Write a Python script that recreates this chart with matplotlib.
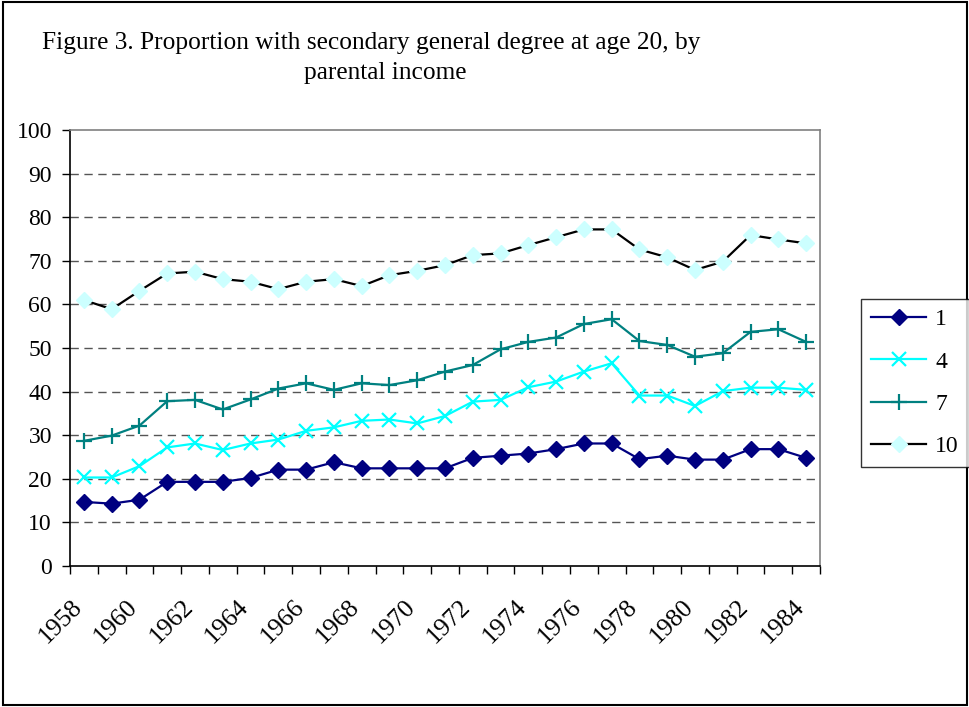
import matplotlib

matplotlib.use("Agg")
import matplotlib.pyplot as plt
from matplotlib.patches import Rectangle

# values (per cent at age 20)
years = list(range(1958, 1985))
q1 = [14.7, 14.3, 15.2, 19.3, 19.3, 19.3, 20.2, 22.1, 22.1, 23.8, 22.4, 22.4, 22.4,
      22.4, 24.8, 25.3, 25.8, 26.8, 28.1, 28.1, 24.5, 25.3, 24.4, 24.4, 26.8, 26.8, 24.8]
q4 = [20.3, 20.3, 22.9, 27.2, 28.1, 26.6, 28.1, 29.0, 31.0, 31.8, 33.3, 33.6, 32.7,
      34.4, 37.7, 38.1, 41.0, 42.3, 44.6, 46.5, 39.1, 39.1, 36.7, 40.1, 40.9, 40.9, 40.4]
q7 = [28.7, 29.9, 32.2, 37.8, 38.1, 35.9, 38.2, 40.7, 41.9, 40.4, 41.9, 41.5, 42.6,
      44.6, 46.1, 49.7, 51.4, 52.4, 55.5, 56.6, 51.6, 50.7, 48.0, 48.8, 53.7, 54.3, 51.4]
q10 = [61.0, 58.9, 63.1, 67.1, 67.5, 65.8, 65.2, 63.5, 65.2, 65.8, 64.2, 66.7, 67.7,
       69.0, 71.3, 71.7, 73.6, 75.4, 77.2, 77.2, 72.6, 70.8, 67.9, 69.8, 75.9, 74.9, 74.0]
series_labels = ["1", "4", "7", "10"]
yticks = list(range(0, 101, 10))
title_lines = ["Figure 3. Proportion with secondary general degree at age 20, by",
               "parental income"]

plt.rcParams["font.family"] = "Liberation Serif"
FS = 17

fig = plt.figure(figsize=(9.7, 7.07), dpi=100, facecolor="white")
ax = fig.add_axes([70 / 970, 1 - 566 / 707, 750 / 970, 436 / 707])

x = list(range(len(years)))
ax.plot(x, q1, color="#000080", lw=1.6, marker="D", ms=8.5,
        mfc="#000080", mec="#000080", label=series_labels[0], zorder=3)
ax.plot(x, q4, color="#00FFFF", lw=1.6, marker="x", ms=10, mew=1.6,
        label=series_labels[1], zorder=3)
ax.plot(x, q7, color="#008080", lw=1.6, marker="+", ms=11, mew=1.6,
        label=series_labels[2], zorder=3)
ax.plot(x, q10, color="black", lw=1.6, marker="D", ms=8.5,
        mfc="#CCFFFF", mec="#CCFFFF", label=series_labels[3], zorder=3)

ax.set_xlim(-0.5, len(years) - 0.5)
ax.set_ylim(0, 100)
ax.set_yticks(yticks)
ax.set_yticklabels([str(v) for v in yticks], fontsize=FS)

# category axis: tick marks between categories, labels every other year
ax.set_xticks([i - 0.5 for i in range(len(years) + 1)])
ax.set_xticklabels([])
ax.tick_params(axis="x", length=6, width=1, direction="out")
ax.tick_params(axis="y", length=6, width=1, direction="out", pad=7)
for i, yr in enumerate(years):
    if yr % 2 == 0:
        ax.annotate(str(yr), xy=(i, 0), xycoords=("data", "axes fraction"),
                    xytext=(-4, -27), textcoords="offset points",
                    rotation=45, rotation_mode="anchor", ha="right", va="center",
                    fontsize=18.5)

for v in yticks[1:-1]:
    ax.axhline(v, color="#555555", lw=1.0, ls=(0, (6, 4)), zorder=1)

for s in ("left", "bottom"):
    ax.spines[s].set_color("black")
    ax.spines[s].set_linewidth(1.2)
for s in ("top", "right"):
    ax.spines[s].set_color("#808080")
    ax.spines[s].set_linewidth(1.2)

leg = fig.legend(loc="upper left", bbox_to_anchor=(861 / 970, 1 - 299 / 707),
                 fontsize=FS, frameon=True, fancybox=False, edgecolor="black",
                 handlelength=2.35, labelspacing=0.88, borderpad=0.42,
                 handletextpad=0.38, borderaxespad=0)
leg.get_frame().set_linewidth(1.0)

fig.text(371 / 970, 1 - 43 / 707, title_lines[0], ha="center", va="center", fontsize=18.3)
fig.text(385 / 970, 1 - 73 / 707, title_lines[1], ha="center", va="center", fontsize=18.3)

fig.patches.append(Rectangle((0.003, 0.003), 0.994, 0.994, transform=fig.transFigure,
                             fill=False, edgecolor="black", lw=1.5))

fig.savefig("out.png", dpi=100, facecolor="white")
